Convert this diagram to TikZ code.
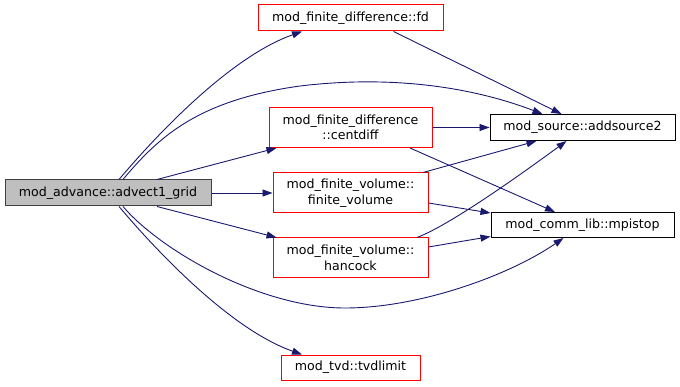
\documentclass[tikz,border=0pt]{standalone}
\usepackage{fontspec}
\setmainfont{DejaVu Sans}
\usetikzlibrary{arrows.meta}
\definecolor{edgeblue}{RGB}{25,25,112}
\definecolor{rootfill}{RGB}{191,191,191}
\definecolor{rootline}{RGB}{64,64,64}
\tikzset{
  fn/.style={draw=red, line width=1pt, fill=white, inner sep=0pt, align=center,
    font=\fontsize{12.6}{15.5}\selectfont, text=black},
  leaf/.style={fn, draw=black},
  rootbox/.style={fn, draw=rootline, fill=rootfill},
  call/.style={draw=edgeblue, line width=0.9pt, -{Triangle[length=10pt,width=7pt]}},
}
\begin{document}
\begin{tikzpicture}[x=1pt,y=-1pt]
\useasboundingbox (0,0) rectangle (680,387);
\node[rootbox, minimum width=206pt, minimum height=26pt] (root) at (108,193) {mod\_advance::advect1\_grid};
\node[fn, minimum width=185pt, minimum height=26pt] (fd) at (350.5,18) {mod\_finite\_difference::fd};
\node[fn, minimum width=163pt, minimum height=40pt] (cd) at (350.5,127.5) {mod\_finite\_difference\\::centdiff};
\node[fn, minimum width=155pt, minimum height=40pt] (fv) at (350.5,193) {mod\_finite\_volume::\\finite\_volume};
\node[fn, minimum width=155pt, minimum height=40pt] (hc) at (350.5,258) {mod\_finite\_volume::\\hancock};
\node[fn, minimum width=139pt, minimum height=25pt] (tvd) at (350.5,367.5) {mod\_tvd::tvdlimit};
\node[leaf, minimum width=185pt, minimum height=26pt] (add) at (582.5,127.5) {mod\_source::addsource2};
\node[leaf, minimum width=183pt, minimum height=25pt] (mp) at (582.5,225) {mod\_comm\_lib::mpistop};

\draw[call] ([xshift=11pt]root.north) .. controls (165,125) and (235,55) .. ([xshift=-48.5pt]fd.south);
\draw[call] ([xshift=15pt]root.north) .. controls (160,135) and (200,100) .. (300,86)
   .. controls (400,74) and (480,90) .. ([xshift=-40pt]add.north);
\draw[call] ([xshift=49pt]root.north) -- ([xshift=-74pt]cd.south);
\draw[call] (root.east) -- (fv.west);
\draw[call] ([xshift=49pt]root.south) -- ([xshift=-74pt]hc.north);
\draw[call] ([xshift=15pt]root.south) .. controls (160,250) and (260,308) .. (345,308)
   .. controls (420,308) and (510,275) .. ([xshift=-19pt]mp.south);
\draw[call] ([xshift=11pt]root.south) .. controls (165,261) and (235,331) .. ([xshift=-48.5pt]tvd.north);

\draw[call] ([xshift=43pt]fd.south) -- ([xshift=-21pt]add.north);
\draw[call] (cd.east) -- (add.west);
\draw[call] ([xshift=59.5pt]cd.south) -- ([xshift=-27.5pt]mp.north);
\draw[call] ([xshift=72.5pt]fv.north) -- ([xshift=-46pt]add.south);
\draw[call] ([yshift=-10pt]fv.east) -- ([yshift=12pt]mp.west);
\draw[call] ([xshift=66.5pt]hc.north) .. controls (450,225) and (520,175) .. ([xshift=-16pt]add.south);
\draw[call] ([yshift=11pt]hc.east) -- ([yshift=-11.5pt]mp.west);
\end{tikzpicture}
\end{document}
